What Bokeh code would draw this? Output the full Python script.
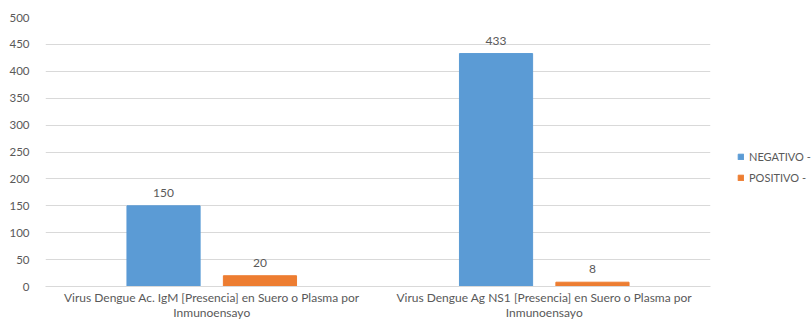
from bokeh.plotting import figure
from bokeh.models import (ColumnDataSource, Range1d, FixedTicker, Legend, LegendItem,
                          LabelSet)
from bokeh.core.properties import value
from bokeh.embed import file_html
from bokeh.resources import INLINE
import numpy as np

categories = ["Virus Dengue Ac. IgM [Presencia] en Suero o Plasma por\nInmunoensayo",
              "Virus Dengue Ag NS1 [Presencia] en Suero o Plasma por\nInmunoensayo"]
negativo = [150, 433]
positivo = [20, 8]
series_names = ["NEGATIVO -", "POSITIVO -"]
y_ticks = list(range(0, 501, 50))

FONT = "Lato"
GRAY = "#595959"
GRID = "#D9D9D9"
BLUE = "#5B9BD5"
ORANGE = "#ED7D31"

centers = np.arange(len(categories)) + 0.5
off = 0.145
bw = 0.22

src_neg = ColumnDataSource(dict(x=centers - off, y=negativo, t=[str(v) for v in negativo]))
src_pos = ColumnDataSource(dict(x=centers + off, y=positivo, t=[str(v) for v in positivo]))

p = figure(frame_width=665, frame_height=269, output_backend="svg", toolbar_location=None,
           x_range=Range1d(0, len(categories)), y_range=Range1d(0, 500),
           min_border_left=45, min_border_top=17, min_border_bottom=30, min_border_right=95)
p.outline_line_color = None
p.background_fill_color = "white"

r1 = p.vbar(x="x", top="y", width=bw, source=src_neg, fill_color=BLUE, line_color=BLUE)
r2 = p.vbar(x="x", top="y", width=bw, source=src_pos, fill_color=ORANGE, line_color=ORANGE)

for src in (src_neg, src_pos):
    p.add_layout(LabelSet(x="x", y="y", text="t", source=src, y_offset=9,
                          text_align="center", text_baseline="bottom",
                          text_font=value(FONT), text_font_size=value("12px"),
                          text_color=GRAY))

p.xgrid.grid_line_color = None
p.ygrid.grid_line_color = GRID
p.ygrid.ticker = FixedTicker(ticks=y_ticks)

p.yaxis.ticker = FixedTicker(ticks=y_ticks)
p.yaxis.axis_line_color = None
p.yaxis.major_tick_line_color = None
p.yaxis.minor_tick_line_color = None
p.yaxis.major_label_standoff = 10
p.yaxis.major_label_text_font = FONT
p.yaxis.major_label_text_font_size = "11.5px"
p.yaxis.major_label_text_color = GRAY

p.xaxis.ticker = FixedTicker(ticks=list(centers))
p.xaxis.major_label_overrides = {float(c): lab for c, lab in zip(centers, categories)}
p.xaxis.axis_line_color = GRID
p.xaxis.major_tick_line_color = None
p.xaxis.minor_tick_line_color = None
p.xaxis.major_tick_out = 0
p.xaxis.major_tick_in = 0
p.xaxis.major_label_standoff = 3
p.xaxis.major_label_text_font = FONT
p.xaxis.major_label_text_font_size = "12px"
p.xaxis.major_label_text_line_height = 1.0
p.xaxis.major_label_text_color = GRAY

legend = Legend(items=[LegendItem(label=series_names[0], renderers=[r1]),
                       LegendItem(label=series_names[1], renderers=[r2])],
                location=(27, 102), glyph_width=7, glyph_height=7, label_standoff=5,
                spacing=8, label_text_font=FONT, label_text_font_size="11px",
                label_text_color=GRAY, border_line_color=None, background_fill_alpha=0,
                padding=0, margin=0)
p.add_layout(legend, "right")

open("out.html", "w").write(file_html(p, INLINE))
